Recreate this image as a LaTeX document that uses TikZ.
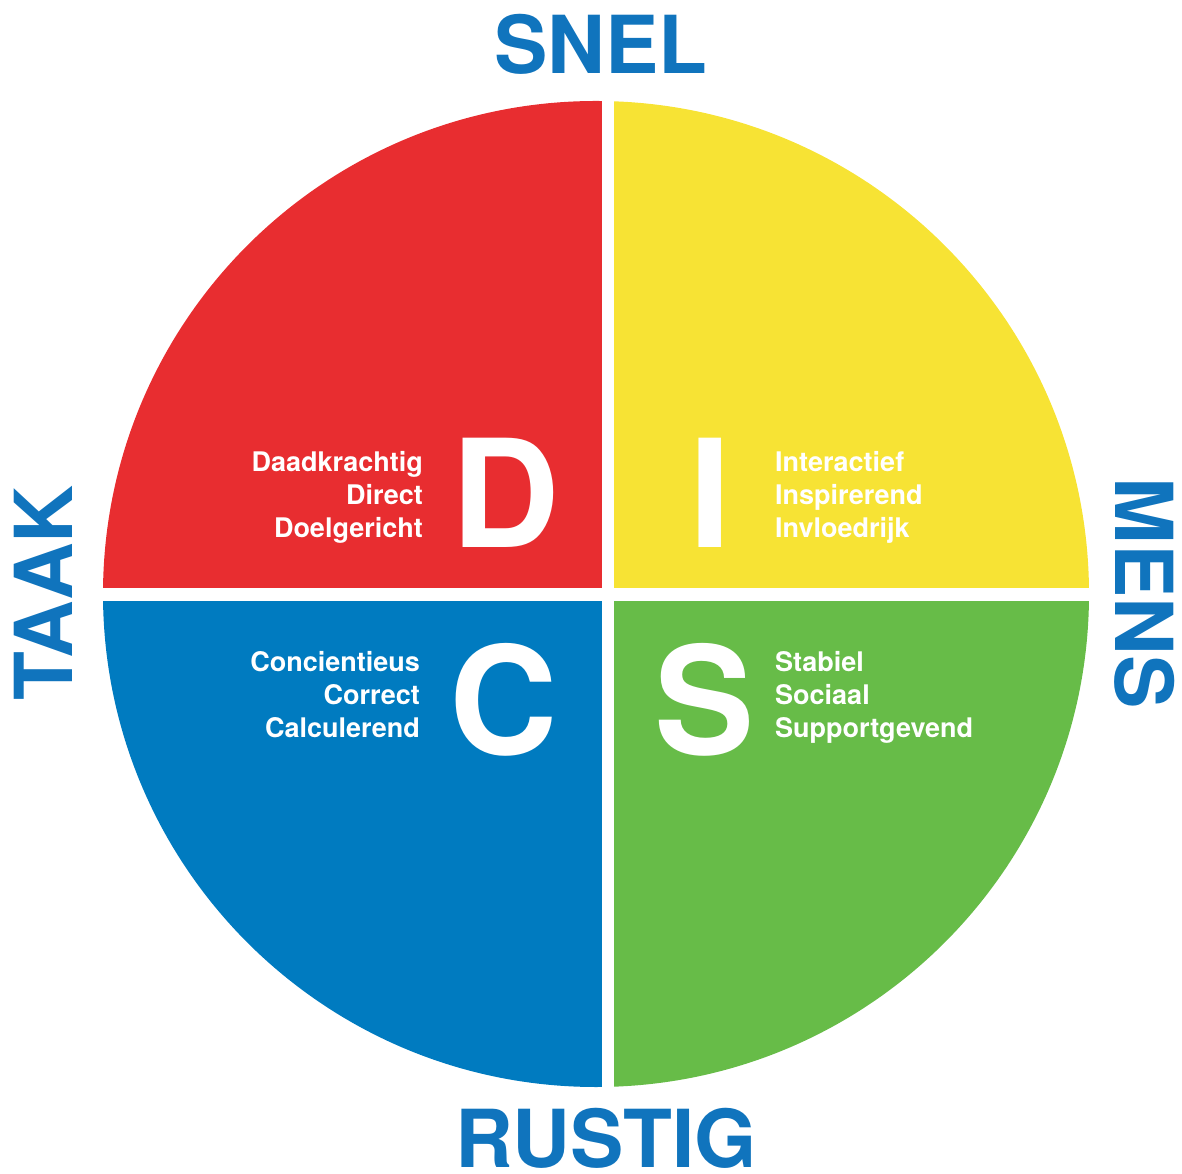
\documentclass[tikz,border=0pt]{standalone}
\usepackage{fontspec}
\setmainfont{TeX Gyre Heros}
\usepackage{tikz}

\definecolor{discred}{RGB}{232,45,48}
\definecolor{discyellow}{RGB}{247,227,52}
\definecolor{discblue}{RGB}{0,123,192}
\definecolor{discgreen}{RGB}{103,188,72}
\definecolor{axisblue}{RGB}{16,116,189}

\tikzset{
  axislabel/.style={text=axisblue,inner sep=0pt,font=\fontsize{80}{80}\selectfont\bfseries},
  bigletter/.style={text=white,inner sep=0pt,anchor=base,font=\fontsize{150}{150}\selectfont\bfseries},
  traits/.style={text=white,inner sep=0pt,font=\fontsize{27}{33}\selectfont\bfseries}
}

\begin{document}
\begin{tikzpicture}[x=1pt,y=1pt]
\useasboundingbox (0,0) rectangle (1182,1173);
\begin{scope}
\clip (596,579) circle (493);
\fill[discred](0,585) rectangle (602,1173);
\fill[discyellow](614,585) rectangle (1182,1173);
\fill[discblue](0,0) rectangle (602,572);
\fill[discgreen](614,0) rectangle (1182,572);
\end{scope}
\node[axislabel,anchor=base] (snel) at (601,1099) {SNEL};
\node[axislabel,anchor=base,text depth=0pt] (rustig) at (606,6) {RUSTIG};
\node[axislabel,anchor=base,rotate=90] (taak) at (72,580) {TAAK};
\node[axislabel,anchor=base,rotate=-90] (mens) at (1115,580) {MENS};
\node[bigletter] (d) at (506,625) {D};
\node[bigletter] (i) at (710,625) {I};
\node[bigletter] (c) at (504,418) {C};
\node[bigletter] (s) at (705,418) {S};
\node[traits,align=right,anchor=base east] (dtraits) at (423,635) {Daadkrachtig\\Direct\\Doelgericht};
\node[traits,align=left,anchor=base west] (itraits) at (775,635) {Interactief\\Inspirerend\\Invloedrijk};
\node[traits,align=right,anchor=base east] (ctraits) at (420,435) {Concientieus\\Correct\\Calculerend};
\node[traits,align=left,anchor=base west] (straits) at (775,435) {Stabiel\\Sociaal\\Supportgevend};
\end{tikzpicture}
\end{document}
